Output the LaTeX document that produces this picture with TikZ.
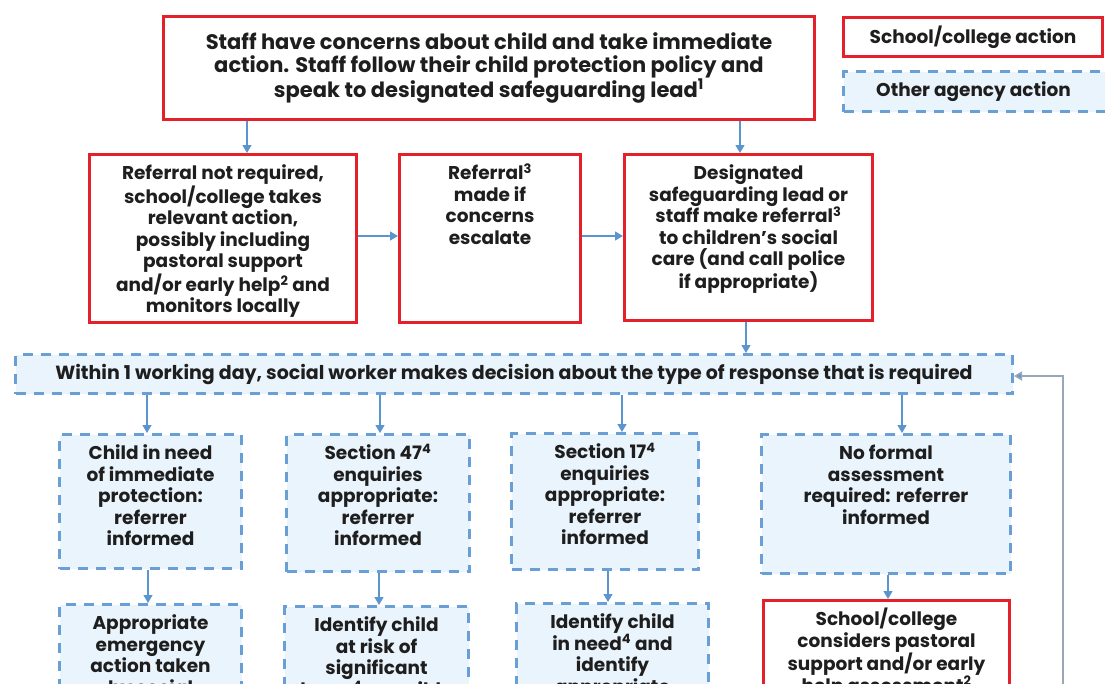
\documentclass[tikz,border=0pt]{standalone}
\usepackage{fontspec}
\setmainfont{Poppins}
\usetikzlibrary{arrows.meta,calc}
\definecolor{sred}{HTML}{E4202B}
\definecolor{sblue}{HTML}{6A9FD6}
\definecolor{sfill}{HTML}{EAF4FC}
\definecolor{arrc}{HTML}{5B95CF}
\definecolor{txt}{HTML}{1E1E1E}
\definecolor{fbc}{HTML}{98A8B8}
\newcommand\tb[3]{\parbox[t][#2pt][t]{#1pt}{\centering\baselineskip=21.6pt\rule{0pt}{25pt}#3\par}}
\tikzset{
  school/.style={draw=sred, line width=3pt, fill=white, inner sep=0pt, text=txt, anchor=north west,
    font=\bfseries\fontsize{18.5}{21.6}\selectfont},
  agency/.style={draw=sblue, line width=3pt, dash pattern=on 10pt off 8pt, fill=sfill, inner sep=0pt,
    text=txt, anchor=north west, font=\bfseries\fontsize{18.5}{21.6}\selectfont},
  arr/.style={draw=arrc, line width=1.2pt, -{Triangle[length=8pt,width=9pt]}},
  fbarr/.style={draw=fbc, line width=1.5pt, -{Triangle[length=8pt,width=9pt,fill=arrc]}}
}
\begin{document}
\begin{tikzpicture}[x=1pt,y=-1pt]
\useasboundingbox (0,0) rectangle (1105,683);
\fill[white] (0,0) rectangle (1105,683);
\clip (0,0) rectangle (1105,683);

% top box
\node[school, minimum width=651pt, minimum height=103pt, align=center,
  font=\bfseries\fontsize{21}{23}\selectfont] (top) at (162,15)
  {Staff have concerns about child and take immediate\\
   action. Staff follow their child protection policy and\\
   speak to designated safeguarding lead\textsuperscript{1}};

% legend
\node[school, minimum width=259pt, minimum height=39pt] (leg1) at (842,16) {School/college action};
\node[agency, minimum width=270pt, minimum height=40pt] (leg2) at (842,70)
  {\hspace*{-10pt}Other agency action};

% row 2
\node[school] (A) at (88,153) {\tb{267}{168}{Referral not required,\\ school/college takes\\ relevant action,\\ possibly including\\ pastoral support\\ and/or early help\textsuperscript{2} and\\ monitors locally}};
\node[school] (B) at (398,153) {\tb{181}{168}{Referral\textsuperscript{3}\\ made if\\ concerns\\ escalate}};
\node[school] (C) at (623,153) {\tb{248}{166}{Designated\\ safeguarding lead or\\ staff make referral\textsuperscript{3}\\ to children’s social\\ care (and call police\\ if appropriate)}};

% decision
\node[agency, minimum width=997pt, minimum height=39pt, font=\bfseries\fontsize{19}{21.6}\selectfont] (dec) at (14,353)
  {Within 1 working day, social worker makes decision about the type of response that is required};

% row 3
\node[agency] (D1) at (58,433) {\tb{182}{134}{Child in need\\ of immediate\\ protection:\\ referrer\\ informed}};
\node[agency] (D2) at (285,433) {\tb{183}{137}{Section 47\textsuperscript{4}\\ enquiries\\ appropriate:\\ referrer\\ informed}};
\node[agency] (D3) at (510,432) {\tb{187}{136}{Section 17\textsuperscript{4}\\ enquiries\\ appropriate:\\ referrer\\ informed}};
\node[agency] (D4) at (760,433) {\tb{249}{139}{No formal\\ assessment\\ required: referrer\\ informed}};

% row 4
\node[agency] (E1) at (58,603) {\tb{182}{120}{Appropriate\\ emergency\\ action taken\\ by social}};
\node[agency] (E2) at (283,605) {\tb{184}{120}{Identify child\\ at risk of\\ significant\\ harm\textsuperscript{4}: possible}};
\node[agency] (E3) at (515,602) {\tb{192}{120}{Identify child\\ in need\textsuperscript{4} and\\ identify\\ appropriate}};
\node[school] (E4) at (762,599) {\tb{246}{120}{School/college\\ considers pastoral\\ support and/or early\\ help assessment\textsuperscript{2}}};

% helper coordinates
\coordinate (xa) at (247,0);
\coordinate (xc) at (740,0);
\coordinate (xcd) at (746,0);
\coordinate (yab) at (0,236);
\coordinate (x1) at (147,0);
\coordinate (x2) at (380,0);
\coordinate (x3) at (622,0);
\coordinate (x4) at (902,0);
\coordinate (z1) at (148,0);
\coordinate (z2) at (379,0);
\coordinate (z3) at (608,0);
\coordinate (z4) at (888,0);
\coordinate (yfb) at (0,376);
\coordinate (fb) at (1063,700);

% connectors
\draw[arr] (top.south -| xa) -- (A.north -| xa);
\draw[arr] (top.south -| xc) -- (C.north -| xc);
\draw[arr] (A.east |- yab) -- (B.west |- yab);
\draw[arr] (B.east |- yab) -- (C.west |- yab);
\draw[arr] (C.south -| xcd) -- (dec.north -| xcd);
\draw[arr] (dec.south -| x1) -- (D1.north -| x1);
\draw[arr] (dec.south -| x2) -- (D2.north -| x2);
\draw[arr] (dec.south -| x3) -- (D3.north -| x3);
\draw[arr] (dec.south -| x4) -- (D4.north -| x4);
\draw[arr] (D1.south -| z1) -- (E1.north -| z1);
\draw[arr] (D2.south -| z2) -- (E2.north -| z2);
\draw[arr] (D3.south -| z3) -- (E3.north -| z3);
\draw[arr] (D4.south -| z4) -- (E4.north -| z4);
\draw[fbarr] (fb) |- (dec.east |- yfb);
\end{tikzpicture}
\end{document}
